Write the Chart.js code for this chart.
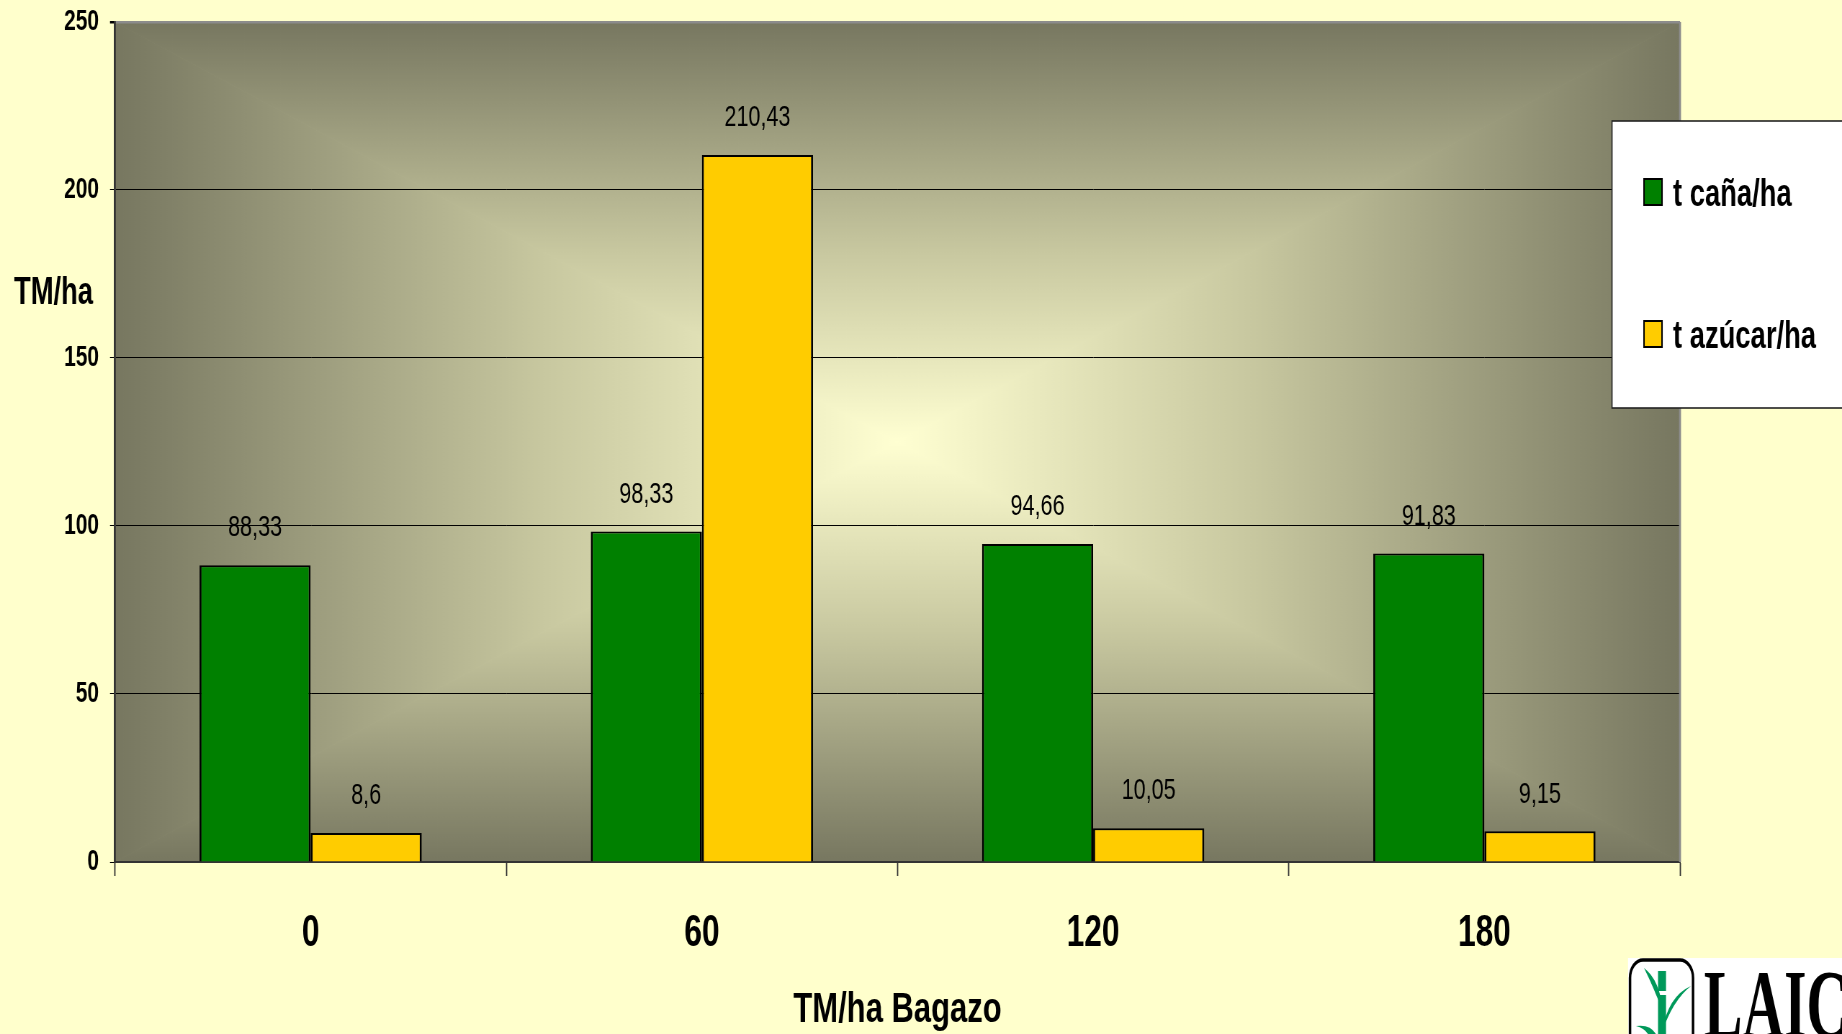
<!DOCTYPE html>
<html>
<head>
<meta charset="utf-8">
<title>Rendimiento caña / azúcar</title>
<script src="https://cdn.jsdelivr.net/npm/chart.js@4.4.0/dist/chart.umd.min.js"></script>
<style>
    html, body { margin: 0; padding: 0; background: #ffffcc; overflow: hidden; }
    #chart { display: block; transform-origin: 0 0; }
</style>
</head>
<body>
<canvas id="chart"></canvas>
<script>
// Data
const categories = ['0', '60', '120', '180'];
const seriesNames = ['t caña/ha', 't azúcar/ha'];
const canaValues = [88.33, 98.33, 94.66, 91.83];
const azucarValues = [8.6, 210.43, 10.05, 9.15];
const yMin = 0;
const yMax = 250;
const yStep = 50;

// Page size and horizontal squeeze (gives the narrow lettering)
const PAGE_W = 1842;
const PAGE_H = 1034;
const W = 2558;
const SX = PAGE_W / W;
const fx = x => x / SX;   // page x -> canvas x
const vw = w => w / SX;   // line width for vertical strokes

const FONT = "'Liberation Sans', Arial, sans-serif";
const PAGE_BG = '#ffffcc';
const EDGE = '#777760';
const CENTRE = '#ffffd2';

// Page background + "from centre" shaded plot area
const plotBackground = {
    id: 'plotBackground',
    beforeDraw(chart) {
        const { ctx, chartArea: a } = chart;
        ctx.save();
        ctx.fillStyle = PAGE_BG;
        ctx.fillRect(0, 0, chart.width, chart.height);

        const cx = (a.left + a.right) / 2;
        const cy = (a.top + a.bottom) / 2;
        const corners = [[a.left, a.top], [a.right, a.top], [a.right, a.bottom], [a.left, a.bottom]];
        const edgeMids = [[cx, a.top], [a.right, cy], [cx, a.bottom], [a.left, cy]];
        for (let i = 0; i < 4; i++) {
            const [x1, y1] = corners[i];
            const [x2, y2] = corners[(i + 1) % 4];
            const [gx, gy] = edgeMids[i];
            const g = ctx.createLinearGradient(gx, gy, cx, cy);
            g.addColorStop(0, EDGE);
            g.addColorStop(0.55, '#c8c8a0');
            g.addColorStop(1, CENTRE);
            ctx.beginPath();
            ctx.moveTo(x1, y1);
            ctx.lineTo(x2, y2);
            ctx.lineTo(cx, cy);
            ctx.closePath();
            ctx.fillStyle = g;
            ctx.strokeStyle = g;
            ctx.lineWidth = 1;
            ctx.fill();
            ctx.stroke();
        }
        ctx.restore();
    },
    beforeDatasetsDraw(chart) {
        // thin grey frame on the right side of the plot
        const { ctx, chartArea: a } = chart;
        ctx.save();
        ctx.strokeStyle = '#8c8c8c';
        ctx.lineWidth = vw(2);
        ctx.beginPath();
        ctx.moveTo(a.right, a.top);
        ctx.lineTo(a.right, a.bottom);
        ctx.stroke();
        ctx.restore();
    }
};

// Value labels above each bar (decimal comma)
const valueLabels = {
    id: 'valueLabels',
    afterDatasetsDraw(chart) {
        const { ctx } = chart;
        ctx.save();
        ctx.font = `30px ${FONT}`;
        ctx.fillStyle = '#000';
        ctx.textAlign = 'center';
        ctx.textBaseline = 'middle';
        chart.data.datasets.forEach((ds, i) => {
            chart.getDatasetMeta(i).data.forEach((bar, j) => {
                const text = String(ds.data[j]).replace('.', ',');
                ctx.fillText(text, bar.x, bar.y - 37);
            });
        });
        ctx.restore();
    }
};

// Axis title on the left, legend box and logo
const extras = {
    id: 'extras',
    afterDraw(chart) {
        const { ctx } = chart;
        ctx.save();

        // y axis title
        ctx.font = `bold 38px ${FONT}`;
        ctx.fillStyle = '#000';
        ctx.textAlign = 'left';
        ctx.textBaseline = 'alphabetic';
        ctx.fillText('TM/ha', fx(14), 304);

        // legend
        const lx = fx(1612);
        ctx.fillStyle = '#fff';
        ctx.fillRect(lx, 121, W - lx + 10, 287);
        ctx.strokeStyle = '#222';
        ctx.lineWidth = 1.6;
        ctx.strokeRect(lx, 121, W - lx + 10, 287);

        const rows = [{ top: 179, base: 206 }, { top: 321, base: 348 }];
        chart.data.datasets.forEach((ds, i) => {
            const r = rows[i];
            ctx.fillStyle = ds.backgroundColor;
            ctx.fillRect(fx(1644), r.top, fx(1662) - fx(1644), 26);
            ctx.strokeStyle = '#000';
            ctx.lineWidth = 2;
            ctx.strokeRect(fx(1644), r.top, fx(1662) - fx(1644), 26);
            ctx.fillStyle = '#000';
            ctx.font = `bold 38px ${FONT}`;
            ctx.fillText(ds.label, fx(1673), r.base);
        });

        // LAICA logo, bottom right
        ctx.fillStyle = '#fff';
        ctx.fillRect(fx(1628), 958, W - fx(1628), PAGE_H - 958);
        ctx.strokeStyle = '#000';
        ctx.lineWidth = 3.5;
        ctx.beginPath();
        ctx.roundRect(fx(1630), 960, fx(1693) - fx(1630), 120, 18);
        ctx.stroke();

        ctx.fillStyle = '#00995a';
        ctx.fillRect(fx(1658), 971, fx(1666) - fx(1658), 20);
        ctx.fillRect(fx(1658), 995, fx(1666) - fx(1658), 40);
        ctx.beginPath();
        ctx.moveTo(fx(1644), 968);
        ctx.quadraticCurveTo(fx(1660), 980, fx(1663), 1012);
        ctx.quadraticCurveTo(fx(1653), 986, fx(1644), 968);
        ctx.fill();
        ctx.beginPath();
        ctx.moveTo(fx(1691), 986);
        ctx.quadraticCurveTo(fx(1668), 996, fx(1662), 1032);
        ctx.quadraticCurveTo(fx(1673), 1000, fx(1691), 986);
        ctx.fill();
        ctx.beginPath();
        ctx.moveTo(fx(1636), 1026);
        ctx.quadraticCurveTo(fx(1650), 1024, fx(1656), 1034);
        ctx.lineTo(fx(1648), 1034);
        ctx.quadraticCurveTo(fx(1644), 1028, fx(1636), 1026);
        ctx.fill();

        ctx.fillStyle = '#000';
        ctx.font = "bold 80px 'Liberation Serif', serif";
        ctx.translate(fx(1704), 972);
        ctx.scale(1, 1.22);
        ctx.textBaseline = 'alphabetic';
        ctx.fillText('LAICA', 0, 0.662 * 80);

        ctx.restore();
    }
};

const canvas = document.getElementById('chart');
canvas.width = W;
canvas.height = PAGE_H;
canvas.style.transform = `scaleX(${SX})`;

const barBorder = { top: 2, left: vw(2), right: vw(2), bottom: 0 };

new Chart(canvas, {
    type: 'bar',
    data: {
        labels: categories,
        datasets: [
            {
                label: seriesNames[0],
                data: canaValues,
                backgroundColor: '#008000',
                borderColor: '#000',
                borderWidth: barBorder,
                categoryPercentage: 0.568,
                barPercentage: 1.0
            },
            {
                label: seriesNames[1],
                data: azucarValues,
                backgroundColor: '#ffcc00',
                borderColor: '#000',
                borderWidth: barBorder,
                categoryPercentage: 0.568,
                barPercentage: 1.0
            }
        ]
    },
    options: {
        responsive: false,
        animation: false,
        devicePixelRatio: 1,
        layout: {
            padding: { left: 0, top: 0, right: W - fx(1680), bottom: 0 }
        },
        plugins: {
            legend: { display: false },
            tooltip: { enabled: false }
        },
        scales: {
            x: {
                grid: {
                    display: true,
                    drawOnChartArea: false,
                    drawTicks: true,
                    tickLength: 14,
                    tickColor: '#333',
                    tickWidth: vw(1.3),
                    offset: true
                },
                border: { display: true, color: '#333', width: 2 },
                ticks: {
                    color: '#000',
                    font: { family: FONT, size: 44, weight: 'bold' },
                    padding: 31,
                    maxRotation: 0
                },
                title: {
                    display: true,
                    text: 'TM/ha Bagazo',
                    color: '#000',
                    font: { family: FONT, size: 43, weight: 'bold' },
                    padding: { top: 0, bottom: -2 }
                },
                afterFit(scale) { scale.height = 1034 - 862; }
            },
            y: {
                min: yMin,
                max: yMax,
                ticks: {
                    stepSize: yStep,
                    color: '#000',
                    // small line height keeps the plot top close to the page edge
                    font: { family: FONT, size: 29, weight: 'bold', lineHeight: 0.46 },
                    padding: fx(11)
                },
                grid: {
                    color: ctx => ctx.tick.value === yMax ? '#8c8c8c' : '#000',
                    lineWidth: ctx => ctx.tick.value === yMax ? 2.5 : 1,
                    drawTicks: true,
                    tickLength: fx(5),
                    tickColor: '#000'
                },
                border: { color: '#333', width: vw(2) },
                afterFit(scale) { scale.width = fx(115); }
            }
        }
    },
    plugins: [plotBackground, valueLabels, extras]
});
</script>
</body>
</html>
